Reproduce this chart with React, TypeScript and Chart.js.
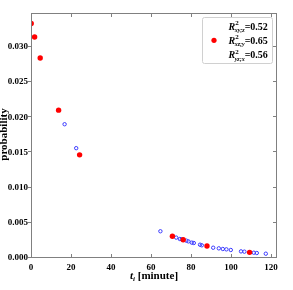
import React, { useEffect, useRef } from "react";
import { Chart, registerables } from "chart.js";

Chart.register(...registerables);

// Red filled series (R²xz;y = 0.65)
const RED_X = [0.1, 1.8, 4.6, 13.8, 24.3, 70.7, 76.1, 88.0, 109.3];
const RED_Y = [0.0333, 0.0314, 0.0284, 0.021, 0.01465, 0.0031, 0.0026, 0.0017, 0.0008];

// Blue open series
const BLUE_X = [16.8, 22.6, 64.7, 72.6, 74.4, 75.4, 77.7, 78.7, 80.4, 81.4, 84.5, 85.4, 91.1, 93.9, 95.9, 97.7, 99.9, 105.0, 106.7, 111.4, 112.9, 117.4];
const BLUE_Y = [0.019, 0.0156, 0.0038, 0.0029, 0.0027, 0.00265, 0.00246, 0.00236, 0.00218, 0.00213, 0.00189, 0.0018, 0.00146, 0.00137, 0.00128, 0.00123, 0.00114, 0.00094, 0.0009, 0.00075, 0.00071, 0.00061];

const X_TICKS = [0, 20, 40, 60, 80, 100, 120];
const Y_TICKS = [0, 0.005, 0.01, 0.015, 0.02, 0.025, 0.03];

const LEGEND_SUBS = ["xy;z", "xz;y", "yz;x"];
const LEGEND_VALUES = ["0.52", "0.65", "0.56"];
const LEGEND_MARKERS = [null, "#ff0000", null];

const SERIF = '"Liberation Serif", "DejaVu Serif", serif';

const decorPlugin = {
  id: "decor",
  afterDraw(chart: any) {
    const ctx = chart.ctx;
    const { left, right, top, bottom } = chart.chartArea;
    const xs = chart.scales.x;
    const ys = chart.scales.y;
    ctx.save();
    ctx.strokeStyle = "#808080";
    ctx.lineWidth = 1;
    ctx.strokeRect(Math.round(left) + 0.5, Math.round(top) + 0.5, Math.round(right - left) - 1, Math.round(bottom - top) - 1);
    ctx.beginPath();
    for (const v of X_TICKS) {
      const px = Math.round(xs.getPixelForValue(v)) + 0.5;
      if (px < left + 2 || px > right - 1) continue;
      ctx.moveTo(px, bottom);
      ctx.lineTo(px, bottom - 4);
      ctx.moveTo(px, top);
      ctx.lineTo(px, top + 4);
    }
    for (const v of Y_TICKS) {
      const py = Math.round(ys.getPixelForValue(v)) - 0.5;
      ctx.moveTo(left - 3, py);
      ctx.lineTo(left, py);
      ctx.moveTo(right - 1, py);
      ctx.lineTo(right - 4, py);
    }
    ctx.stroke();

    // y title
    ctx.fillStyle = "#000";
    ctx.save();
    ctx.translate(7, (top + bottom) / 2 - 1);
    ctx.rotate(-Math.PI / 2);
    ctx.font = `bold 11px ${SERIF}`;
    ctx.textAlign = "center";
    ctx.textBaseline = "alphabetic";
    ctx.fillText("probability", 0, 0);
    ctx.restore();

    // x title: t_i [minute]
    ctx.textBaseline = "alphabetic";
    ctx.textAlign = "left";
    const bigT = `italic bold 11px ${SERIF}`;
    const subF = `italic bold 7px ${SERIF}`;
    const restF = `bold 11px ${SERIF}`;
    ctx.font = bigT;
    const wT = ctx.measureText("t").width;
    ctx.font = subF;
    const wI = ctx.measureText("i").width;
    ctx.font = restF;
    const wR = ctx.measureText(" [minute]").width;
    const total = wT + wI + wR;
    const x0 = (left + right) / 2 - total / 2;
    const by = 279;
    ctx.font = bigT;
    ctx.fillText("t", x0, by);
    ctx.font = subF;
    ctx.fillText("i", x0 + wT, by + 2);
    ctx.font = restF;
    ctx.fillText(" [minute]", x0 + wT + wI, by);

    // legend
    const lx = 202.5, ly = 17.5, lw = 70, lh = 46;
    ctx.beginPath();
    if (ctx.roundRect) ctx.roundRect(lx, ly, lw, lh, 2);
    else ctx.rect(lx, ly, lw, lh);
    ctx.fillStyle = "rgba(255,255,255,0.9)";
    ctx.fill();
    ctx.strokeStyle = "#d0d0d0";
    ctx.stroke();
    for (let i = 0; i < LEGEND_SUBS.length; i++) {
      const cy = 26 + i * 14.3;
      const m = LEGEND_MARKERS[i];
      if (m) {
        ctx.beginPath();
        ctx.arc(214, cy, 2.6, 0, Math.PI * 2);
        ctx.fillStyle = m;
        ctx.fill();
      }
      ctx.fillStyle = "#000";
      let tx = 228.5;
      ctx.font = `italic bold 10px ${SERIF}`;
      ctx.fillText("R", tx, cy + 3.5);
      tx += ctx.measureText("R").width;
      ctx.font = `bold 7px ${SERIF}`;
      const w2 = ctx.measureText("2").width;
      ctx.fillText("2", tx, cy - 1);
      ctx.font = `italic bold 6px ${SERIF}`;
      const ws = ctx.measureText(LEGEND_SUBS[i]).width;
      ctx.fillText(LEGEND_SUBS[i], tx - 0.5, cy + 6);
      tx += Math.max(w2, ws - 0.5);
      ctx.font = `bold 10px ${SERIF}`;
      ctx.fillText("=" + LEGEND_VALUES[i], tx, cy + 3.5);
    }
    ctx.restore();
  },
};

export default function App() {
  const ref = useRef<HTMLCanvasElement | null>(null);
  useEffect(() => {
    if (!ref.current) return;
    const chart = new Chart(ref.current, {
      type: "scatter",
      data: {
        datasets: [
          {
            label: "red",
            data: RED_X.map((x, i) => ({ x, y: RED_Y[i] })),
            backgroundColor: "#ff0000",
            borderColor: "#ff0000",
            pointRadius: 2.7,
            borderWidth: 0,
            order: 0,
          },
          {
            label: "blue",
            data: BLUE_X.map((x, i) => ({ x, y: BLUE_Y[i] })),
            backgroundColor: "rgba(0,0,0,0)",
            borderColor: "#3a3aff",
            pointRadius: 1.7,
            borderWidth: 1,
            order: 1,
          },
        ],
      },
      options: {
        animation: false,
        responsive: false,
        maintainAspectRatio: false,
        layout: { padding: { top: 13, right: 16, left: 0, bottom: 0 } },
        plugins: { legend: { display: false }, tooltip: { enabled: false } },
        scales: {
          x: {
            type: "linear",
            min: 0,
            max: 123,
            afterFit: (s: any) => { s.height = 32; },
            afterBuildTicks: (s: any) => { s.ticks = X_TICKS.map((v) => ({ value: v })); },
            grid: { display: false, drawTicks: false },
            border: { display: false },
            ticks: {
              padding: 4,
              color: "#000",
              font: { family: SERIF, weight: "bold", size: 9 },
              maxRotation: 0,
              callback: (v: any) => String(v),
            },
          },
          y: {
            type: "linear",
            min: 0,
            max: 0.0348,
            afterFit: (s: any) => { s.width = 31; },
            afterBuildTicks: (s: any) => { s.ticks = Y_TICKS.map((v) => ({ value: v })); },
            grid: { display: false, drawTicks: false },
            border: { display: false },
            ticks: {
              padding: 3,
              color: "#000",
              font: { family: SERIF, weight: "bold", size: 9 },
              callback: (v: any) => Number(v).toFixed(3),
            },
          },
        },
      },
      plugins: [decorPlugin],
    });
    return () => chart.destroy();
  }, []);
  return (
    <div style={{ position: "fixed", left: 0, top: 0, width: 293, height: 290, background: "#fff" }}>
      <canvas ref={ref} width={293} height={290} style={{ width: 293, height: 290 }} />
    </div>
  );
}
